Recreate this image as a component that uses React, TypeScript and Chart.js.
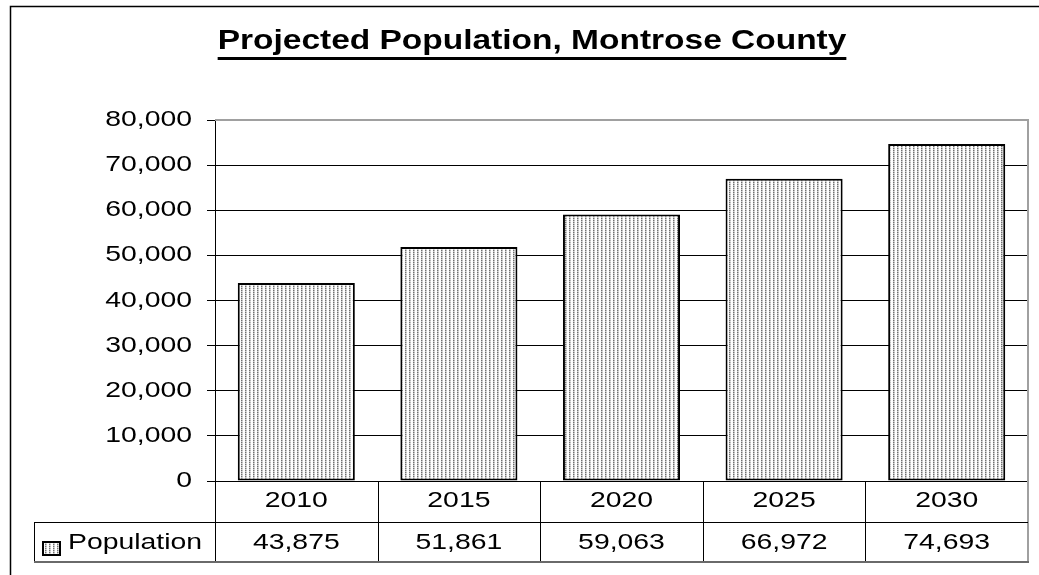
import React, { useEffect, useRef } from "react";
import { Chart, registerables } from "chart.js";

Chart.register(...registerables);

// Chart content
const CHART_TITLE = "Projected Population, Montrose County";
const SERIES_LABEL = "Population";
const YEARS = ["2010", "2015", "2020", "2025", "2030"];
const POPULATION = [43875, 51861, 59063, 66972, 74693];
const Y_MIN = 0;
const Y_MAX = 80000;
const Y_STEP = 10000;

const FONT_FAMILY = '"Liberation Sans", Arial, sans-serif';
// Text is drawn horizontally widened, like the original spreadsheet export
const TEXT_STRETCH = 1.29;
const TITLE_STRETCH = 1.24;

function fmt(v: number): string {
  return v.toLocaleString("en-US");
}

// Fine dotted fill with faint vertical columns
function makeDotPattern(): CanvasPattern | string {
  const tile = document.createElement("canvas");
  tile.width = 4;
  tile.height = 2;
  const t = tile.getContext("2d");
  if (!t) return "#d4d4d4";
  const W = "#ffffff";
  const cells = [
    [W, "#707070", "#b8b8b8", W],
    [W, "#c8c8c8", "#e0e0e0", W],
  ];
  for (let r = 0; r < cells.length; r++) {
    for (let c = 0; c < cells[r].length; c++) {
      t.fillStyle = cells[r][c];
      t.fillRect(c, r, 1, 1);
    }
  }
  const p = t.createPattern(tile, "repeat");
  return p || "#d4d4d4";
}

function stretchedText(
  ctx: CanvasRenderingContext2D,
  text: string,
  x: number,
  y: number,
  align: CanvasTextAlign,
  font: string,
  sx: number = TEXT_STRETCH
) {
  ctx.save();
  ctx.translate(x, y);
  ctx.scale(sx, 1);
  ctx.font = font;
  ctx.textAlign = align;
  ctx.textBaseline = "middle";
  ctx.fillStyle = "#000";
  ctx.fillText(text, 0, 0);
  ctx.restore();
}

export default function App() {
  const canvasRef = useRef<HTMLCanvasElement | null>(null);

  useEffect(() => {
    const canvas = canvasRef.current;
    if (!canvas) return;
    const pattern = makeDotPattern();

    const labelFont = `22px ${FONT_FAMILY}`;
    const titleFont = `bold 27px ${FONT_FAMILY}`;

    const framePlugin = {
      id: "frameAndTable",
      afterDraw(chart: any) {
        const ctx: CanvasRenderingContext2D = chart.ctx;
        const { left, right, top, bottom } = chart.chartArea;
        const xs = chart.scales.x;
        const ys = chart.scales.y;
        const n = YEARS.length;
        const cw = (right - left) / n;
        const rowH = 41;
        const row2 = bottom + rowH;
        const tableBottom = row2 + rowH - 1;
        const legendLeft = 34;

        ctx.save();

        // outer frame
        ctx.strokeStyle = "#000";
        ctx.lineWidth = 1.5;
        ctx.strokeRect(10.5, 6.5, 1200, 1200);

        // plot area border (top and right)
        ctx.strokeStyle = "#a0a0a0";
        ctx.lineWidth = 2;
        ctx.beginPath();
        ctx.moveTo(left, top);
        ctx.lineTo(right, top);
        ctx.lineTo(right, tableBottom);
        ctx.stroke();

        // title with underline
        ctx.font = titleFont;
        const tw = ctx.measureText(CHART_TITLE).width * TITLE_STRETCH;
        const tcx = 532;
        stretchedText(ctx, CHART_TITLE, tcx, 42, "center", titleFont, TITLE_STRETCH);
        ctx.fillStyle = "#000";
        ctx.fillRect(tcx - tw / 2, 57, tw, 3);

        // y tick labels
        ys.ticks.forEach((t: any) => {
          const y = ys.getPixelForValue(t.value);
          stretchedText(ctx, fmt(t.value), 192, y, "right", labelFont);
        });

        // data table grid
        ctx.strokeStyle = "#000";
        ctx.lineWidth = 1;
        ctx.beginPath();
        ctx.moveTo(legendLeft, row2 + 0.5);
        ctx.lineTo(right, row2 + 0.5);
        ctx.moveTo(legendLeft + 0.5, row2);
        ctx.lineTo(legendLeft + 0.5, tableBottom);
        for (let i = 0; i < n; i++) {
          const x = Math.round(left + i * cw) + 0.5;
          ctx.moveTo(x, bottom);
          ctx.lineTo(x, tableBottom);
        }
        ctx.stroke();

        ctx.strokeStyle = "#6a6a6a";
        ctx.lineWidth = 2;
        ctx.beginPath();
        ctx.moveTo(legendLeft, tableBottom);
        ctx.lineTo(right + 1, tableBottom);
        ctx.stroke();

        // category and value cells
        YEARS.forEach((yr, i) => {
          const cx = xs.getPixelForValue(i);
          stretchedText(ctx, yr, cx, bottom + rowH / 2 - 1, "center", labelFont);
          stretchedText(ctx, fmt(POPULATION[i]), cx, row2 + rowH / 2, "center", labelFont);
        });

        // legend key
        const kx = 43, ky = 542, kw = 17, kh = 13;
        ctx.fillStyle = pattern as any;
        ctx.fillRect(kx, ky, kw, kh);
        ctx.strokeStyle = "#000";
        ctx.lineWidth = 2;
        ctx.strokeRect(kx, ky, kw, kh);
        stretchedText(ctx, SERIES_LABEL, 68, row2 + rowH / 2, "left", labelFont);

        ctx.restore();
      },
    };

    const chart = new Chart(canvas, {
      type: "bar",
      data: {
        labels: YEARS,
        datasets: [
          {
            label: SERIES_LABEL,
            data: POPULATION,
            backgroundColor: pattern as any,
            borderColor: "#000",
            borderWidth: 2,
            borderSkipped: false,
            barPercentage: 0.72,
            categoryPercentage: 1,
          },
        ],
      },
      options: {
        responsive: false,
        animation: false,
        devicePixelRatio: 1,
        locale: "en-US",
        layout: { padding: { left: 0, top: 120, right: 11, bottom: 94 } },
        plugins: {
          legend: { display: false },
          title: { display: false },
          tooltip: { enabled: false },
        },
        scales: {
          x: { display: false },
          y: {
            min: Y_MIN,
            max: Y_MAX,
            ticks: { stepSize: Y_STEP, display: false },
            grid: {
              color: (c: any) => (c.tick && c.tick.value === Y_MAX ? "#a0a0a0" : "#000"),
              tickColor: "#000",
              tickLength: 8,
              lineWidth: 1,
            },
            border: { color: "#000", width: 1 },
            afterFit: (scale: any) => {
              scale.width = 215;
            },
          },
        },
      },
      plugins: [framePlugin],
    });

    return () => chart.destroy();
  }, []);

  return (
    <div style={{ position: "absolute", left: 0, top: 0, width: 1039, height: 575, background: "#fff" }}>
      <canvas ref={canvasRef} width={1039} height={575} style={{ display: "block" }} />
    </div>
  );
}
